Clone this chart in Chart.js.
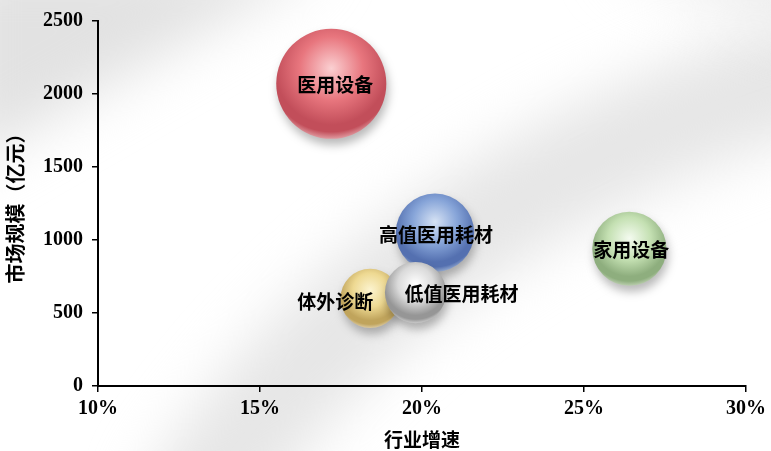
<!DOCTYPE html>
<html>
<head>
<meta charset="utf-8">
<script src="https://cdn.jsdelivr.net/npm/chart.js@4/dist/chart.umd.min.js"></script>
<style>
  html, body { margin: 0; padding: 0; background: #ffffff; }
  #wrap { width: 771px; height: 451px; }
</style>
</head>
<body>
<div id="wrap"><canvas id="c" width="771" height="451"></canvas></div>
<script>
// ---- data ----
const categories  = ['医用设备', '高值医用耗材', '体外诊断', '低值医用耗材', '家用设备'];
const growthRate  = [17.2, 20.4, 18.4, 19.8, 26.4];      // 行业增速 (%)
const marketSize  = [2070, 1050, 600, 640, 940];         // 市场规模 (亿元)
const bubbleSize  = [2070, 1050, 600, 640, 940];         // bubble area value
const xTicks      = [10, 15, 20, 25, 30];
const yTicks      = [0, 500, 1000, 1500, 2000, 2500];

// ---- styles ----
const RADIUS_SCALE = 1.21;
const sphereColors = [
  { light: '#fbd0d2', base: '#e8767e', dark: '#c24e5a', rim: '#e09aa0' },
  { light: '#d6e2f4', base: '#86a4d8', dark: '#5470b0', rim: '#94aad0' },
  { light: '#fcf4d0', base: '#eed992', dark: '#c0a45c', rim: '#dccaa0' },
  { light: '#ffffff', base: '#dadada', dark: '#969696', rim: '#cacaca' },
  { light: '#f4fbf0', base: '#c4e0b2', dark: '#8eae7e', rim: '#bccfb0' }
];
const labelOffset = [[4, 1], [1, 2], [-35, 3], [46, 1], [2, 1]];
const CJK = '"Noto Sans CJK SC", "Noto Sans CJK JP", sans-serif';
const SERIF = '"Liberation Serif", "DejaVu Serif", serif';

const bgPlugin = {
  id: 'bg',
  beforeDraw(chart) {
    const ctx = chart.ctx;
    ctx.save();
    ctx.fillStyle = '#ffffff';
    ctx.fillRect(0, 0, chart.width, chart.height);
    ctx.filter = 'blur(28px)';
    ctx.fillStyle = '#e2e2e2';
    ctx.beginPath();
    ctx.moveTo(-40, -40); ctx.lineTo(330, -40); ctx.lineTo(-40, 170); ctx.closePath();
    ctx.fill();
    ctx.strokeStyle = '#e6e6e6';
    ctx.lineWidth = 110;
    ctx.lineCap = 'round';
    ctx.beginPath();
    ctx.moveTo(200, 500);
    ctx.bezierCurveTo(310, 330, 490, 170, 820, 70);
    ctx.stroke();
    ctx.fillStyle = '#ebebeb';
    ctx.beginPath();
    ctx.moveTo(600, -40); ctx.lineTo(820, -40); ctx.lineTo(820, 40); ctx.closePath();
    ctx.fill();
    ctx.restore();
  }
};

const shadowPlugin = {
  id: 'shadow',
  beforeDatasetsDraw(chart) {
    const ctx = chart.ctx;
    ctx.save();
    ctx.shadowColor = 'rgba(0,0,0,0.28)';
    ctx.shadowBlur = 10;
    ctx.shadowOffsetX = 2;
    ctx.shadowOffsetY = 6;
  },
  afterDatasetsDraw(chart) {
    chart.ctx.restore();
  }
};

const labelPlugin = {
  id: 'bubbleLabels',
  afterDatasetsDraw(chart) {
    const ctx = chart.ctx;
    const meta = chart.getDatasetMeta(0);
    ctx.save();
    ctx.font = 'bold 19px ' + CJK;
    ctx.fillStyle = '#000000';
    ctx.textAlign = 'center';
    ctx.textBaseline = 'middle';
    meta.data.forEach((el, i) => {
      const off = labelOffset[i];
      ctx.fillText(categories[i], el.x + off[0], el.y + off[1]);
    });
    ctx.restore();
  }
};

function sphereFill(context) {
  const chart = context.chart;
  const i = context.dataIndex;
  const c = sphereColors[i];
  if (!chart.chartArea || i === undefined) return c.base;
  const xs = chart.scales.x, ys = chart.scales.y;
  const cx = xs.getPixelForValue(growthRate[i]);
  const cy = ys.getPixelForValue(marketSize[i]);
  const r = Math.sqrt(bubbleSize[i]) * RADIUS_SCALE;
  const g = chart.ctx.createRadialGradient(cx, cy - 0.28 * r, 0, cx, cy - 0.28 * r, 1.28 * r);
  g.addColorStop(0, c.light);
  g.addColorStop(0.45, c.base);
  g.addColorStop(0.8, c.dark);
  g.addColorStop(0.9, c.dark);
  g.addColorStop(1, c.rim);
  return g;
}

const points = categories.map((name, i) => ({
  x: growthRate[i],
  y: marketSize[i],
  r: Math.sqrt(bubbleSize[i]) * RADIUS_SCALE
}));

new Chart(document.getElementById('c'), {
  type: 'bubble',
  data: {
    datasets: [{
      label: '市场规模',
      data: points,
      backgroundColor: sphereFill,
      hoverBackgroundColor: sphereFill,
      borderWidth: 0,
      hoverBorderWidth: 0,
      clip: false
    }]
  },
  options: {
    responsive: false,
    animation: false,
    devicePixelRatio: 1,
    layout: { autoPadding: false, padding: { top: 18, right: 23, left: 0, bottom: 0 } },
    plugins: {
      legend: { display: false },
      tooltip: { enabled: false }
    },
    scales: {
      x: {
        type: 'linear',
        min: 10, max: 30,
        afterBuildTicks(scale) { scale.ticks = xTicks.map(v => ({ value: v })); },
        afterFit(scale) { scale.height = 65; },
        ticks: {
          callback: v => v + '%',
          color: '#000',
          font: { family: SERIF, weight: 'bold', size: 20 },
          padding: 5,
          maxRotation: 0
        },
        grid: { display: true, drawOnChartArea: false, drawTicks: true, tickLength: 6, color: '#000', lineWidth: 1.5 },
        border: { display: true, color: '#000', width: 2 },
        title: {
          display: true,
          text: '行业增速',
          color: '#000',
          font: { family: CJK, weight: 'bold', size: 19 },
          padding: { top: 2, bottom: 0 }
        }
      },
      y: {
        type: 'linear',
        min: 0, max: 2500,
        afterBuildTicks(scale) { scale.ticks = yTicks.map(v => ({ value: v })); },
        afterFit(scale) { scale.width = 98; },
        ticks: {
          callback: v => String(v),
          color: '#000',
          font: { family: SERIF, weight: 'bold', size: 20 },
          padding: 9
        },
        grid: { display: true, drawOnChartArea: false, drawTicks: true, tickLength: 6, color: '#000', lineWidth: 1.5 },
        border: { display: true, color: '#000', width: 2 },
        title: {
          display: true,
          text: '市场规模（亿元）',
          color: '#000',
          font: { family: CJK, weight: 'bold', size: 20 },
          padding: { top: 3, bottom: 0 }
        }
      }
    }
  },
  plugins: [bgPlugin, shadowPlugin, labelPlugin]
});
</script>
</body>
</html>
